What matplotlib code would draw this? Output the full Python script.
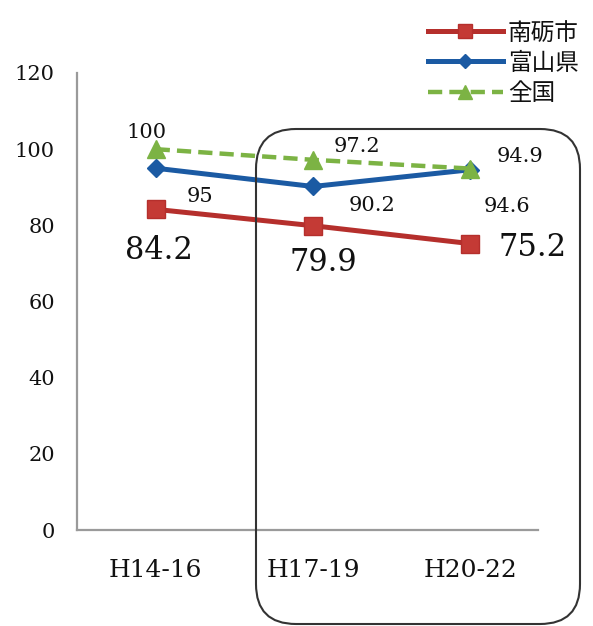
import matplotlib.pyplot as plt
from matplotlib.patches import FancyBboxPatch
from matplotlib.transforms import IdentityTransform

plt.rcParams['font.family'] = ['DejaVu Serif', 'Noto Sans CJK JP']

periods = ['H14-16', 'H17-19', 'H20-22']
nanto = [84.2, 79.9, 75.2]
toyama = [95, 90.2, 94.6]
zenkoku = [100, 97.2, 94.9]

# label offsets in pixels for each point
nanto_off = [(3, -41), (10, -37), (62, -4)]
toyama_off = [(44, -28), (59, -19), (37, -37)]
zenkoku_off = [(-9, 17), (44, 13), (50, 12)]

fig = plt.figure(figsize=(5.93, 6.26), dpi=100)
ax = fig.add_axes([77 / 593, 1 - 530 / 626, (538 - 77) / 593, (530 - 73) / 626])

x = range(len(periods))
red, blue, green = '#b52f2c', '#1b5aa3', '#7cb344'
ax.plot(x, nanto, color=red, lw=3.6, marker='s', ms=13, mfc='#c43a35', mec=red, label='南砺市', zorder=3)
ax.plot(x, toyama, color=blue, lw=3.6, marker='D', ms=9, mfc=blue, mec=blue, label='富山県', zorder=4)
ax.plot(x, zenkoku, color=green, lw=3.2, ls=(0, (3.2, 1.6)), marker='^', ms=13, mfc=green, mec=green,
        label='全国', zorder=5)

for vals, offs, size in [(nanto, nanto_off, 22), (toyama, toyama_off, 15), (zenkoku, zenkoku_off, 15)]:
    for i, (v, off) in enumerate(zip(vals, offs)):
        ax.annotate(f'{v:g}', (i, v), xytext=off, textcoords='offset pixels',
                    ha='center', va='center', fontsize=size, color='#111111')

ax.set_xlim(-0.5, 2.43)
ax.set_ylim(0, 120)
ax.set_yticks(range(0, 121, 20))
ax.set_xticks(list(x))
ax.set_xticklabels(periods)
ax.tick_params(axis='y', length=0, pad=16, labelsize=15, labelcolor='#111111')
ax.tick_params(axis='x', length=0, pad=21, labelsize=18, labelcolor='#111111')
for s in ['top', 'right']:
    ax.spines[s].set_visible(False)
for s in ['left', 'bottom']:
    ax.spines[s].set_color('#9a9a9a')
    ax.spines[s].set_linewidth(1.6)

leg = fig.legend(loc='upper right', bbox_to_anchor=(1.0, 0.988), frameon=False,
                 prop={'family': 'Noto Sans CJK JP', 'size': 17}, handlelength=3.2,
                 handletextpad=0.2, labelspacing=0.3, borderaxespad=0.2, markerscale=0.75)
for t in leg.get_texts():
    t.set_color('#111111')

# rounded frame around the later two periods (pixel coordinates, origin bottom-left)
box = FancyBboxPatch((256, 626 - 624), 580 - 256, 624 - 129,
                     boxstyle='round,pad=0,rounding_size=40', transform=IdentityTransform(),
                     fill=False, edgecolor='#333333', lw=1.5, zorder=10)
fig.patches.append(box)

fig.savefig('out.png', dpi=100)
